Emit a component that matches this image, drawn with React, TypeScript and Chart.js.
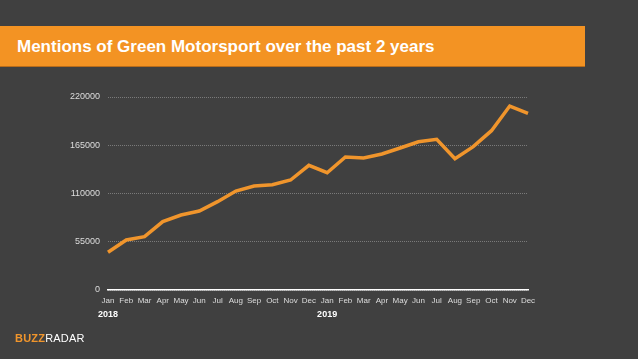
import React, { useEffect, useRef } from "react";
import { Chart, registerables } from "chart.js";

Chart.register(...registerables);

const months = ["Jan","Feb","Mar","Apr","May","Jun","Jul","Aug","Sep","Oct","Nov","Dec","Jan","Feb","Mar","Apr","May","Jun","Jul","Aug","Sep","Oct","Nov","Dec"];
const years = ["2018","","","","","","","","","","","","2019","","","","","","","","","","",""];
const mentions = [43000,57000,60800,77900,85500,90000,100700,112800,118500,120000,125400,142100,133700,151600,150500,155000,161900,169000,171800,149700,163400,181600,209700,201400];
const yTicks = [0,55000,110000,165000,220000];

const title = "Mentions of Green Motorsport over the past 2 years";

export default function App() {
  const ref = useRef<HTMLCanvasElement | null>(null);
  useEffect(() => {
    document.body.style.margin = "0";
    const ctx = ref.current!;
    const chart = new Chart(ctx, {
      type: "line",
      data: {
        labels: months,
        datasets: [{
          data: mentions,
          borderColor: "#f0952c",
          borderWidth: 3.5,
          pointRadius: 0,
          tension: 0,
          fill: false,
          xAxisID: "x",
        }],
      },
      options: {
        responsive: false,
        animation: false,
        layout: { padding: { left: 0, right: 110, top: 97, bottom: 37 } },
        plugins: { legend: { display: false }, tooltip: { enabled: false } },
        scales: {
          x: {
            type: "category",
            position: "bottom",
            grid: { display: false, drawTicks: false },
            border: { display: true, color: "#ffffff", width: 1.5 },
            ticks: { color: "#dddddd", font: { family: "Liberation Sans", size: 8 }, padding: 6, autoSkip: false, maxRotation: 0 },
            afterFit: (s: any) => { s.height = 16; },
          },
          x2: {
            type: "category",
            position: "bottom",
            labels: years,
            grid: { display: false, drawTicks: false },
            border: { display: false },
            ticks: { color: "#ffffff", font: { family: "Liberation Sans", size: 9, weight: "bold" }, padding: 3, autoSkip: false, maxRotation: 0 },
            afterFit: (s: any) => { s.height = 16; },
          },
          y: {
            min: 0,
            max: 220000,
            afterBuildTicks: (s: any) => { s.ticks = yTicks.map((v) => ({ value: v })); },
            afterFit: (s: any) => { s.width = 108; },
            grid: { color: "#7a7a7a", drawTicks: false, lineWidth: 1 },
            border: { display: false, dash: [1, 1] },
            ticks: { color: "#dddddd", font: { family: "Liberation Sans", size: 9 }, padding: 8, callback: (v: any) => String(v) },
          },
        },
      },
    });
    return () => chart.destroy();
  }, []);

  return (
    <div style={{ position: "fixed", left: 0, top: 0, width: 638, height: 359, background: "#404040", overflow: "hidden", fontFamily: "Liberation Sans, Arial, sans-serif" }}>
      <div style={{ position: "absolute", left: 0, top: 26, width: 585, height: 41, background: "#f39323", borderBottom: "1px solid #b86c1a", boxSizing: "border-box" }} />
      <div style={{ position: "absolute", left: 17, top: 37, color: "#ffffff", fontSize: 17, fontWeight: "bold", lineHeight: "20px", whiteSpace: "nowrap" }}>{title}</div>
      <canvas ref={ref} width={638} height={359} style={{ position: "absolute", left: 0, top: 0, width: 638, height: 359 }} />
      <div style={{ position: "absolute", left: 15, top: 331, fontSize: 11, lineHeight: "14px", whiteSpace: "nowrap", letterSpacing: 0.2 }}>
        <span style={{ color: "#f0952c", fontWeight: "bold" }}>BUZZ</span>
        <span style={{ color: "#ffffff" }}>RADAR</span>
      </div>
    </div>
  );
}
